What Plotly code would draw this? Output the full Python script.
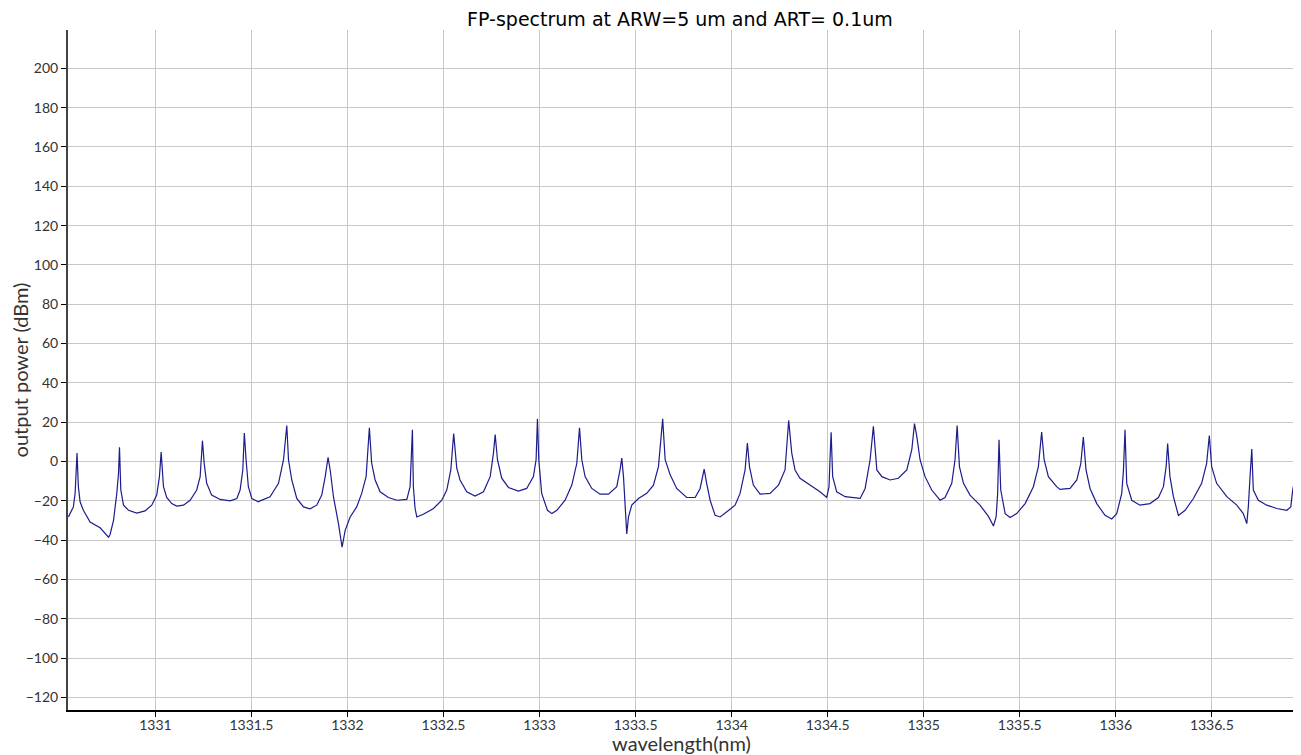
import plotly.graph_objects as go

# Wavelength (nm) and output power (dBm)
wavelength = [
    1330.547, 1330.573, 1330.582, 1330.587, 1330.592, 1330.599, 1330.608, 1330.625, 1330.660, 1330.712,
    1330.756, 1330.764, 1330.782, 1330.799, 1330.808, 1330.813, 1330.820, 1330.834, 1330.860, 1330.903,
    1330.946, 1330.981, 1331.007, 1331.021, 1331.030, 1331.042, 1331.059, 1331.085, 1331.111, 1331.146,
    1331.181, 1331.215, 1331.233, 1331.245, 1331.254, 1331.267, 1331.293, 1331.337, 1331.389, 1331.424,
    1331.441, 1331.455, 1331.463, 1331.472, 1331.484, 1331.502, 1331.536,
    1331.545, 1331.597, 1331.641, 1331.667, 1331.684, 1331.693, 1331.710, 1331.736, 1331.771, 1331.805,
    1331.840, 1331.866, 1331.884, 1331.899, 1331.910, 1331.927, 1331.953, 1331.972, 1331.988, 1332.014,
    1332.048, 1332.074, 1332.097, 1332.114, 1332.126, 1332.144, 1332.170, 1332.213, 1332.257, 1332.309,
    1332.326, 1332.331, 1332.338, 1332.343, 1332.352, 1332.361, 1332.395, 1332.448, 1332.491, 1332.517,
    1332.538, 1332.553, 1332.569,
    1332.586, 1332.621, 1332.664, 1332.708, 1332.743, 1332.760, 1332.769, 1332.781, 1332.803, 1332.838,
    1332.890, 1332.933, 1332.968, 1332.982, 1332.989, 1332.996, 1333.011, 1333.041, 1333.064, 1333.090,
    1333.133, 1333.168, 1333.194, 1333.208, 1333.220, 1333.237, 1333.272, 1333.315, 1333.359, 1333.402,
    1333.419, 1333.428, 1333.437, 1333.445, 1333.454, 1333.463, 1333.480, 1333.515, 1333.558, 1333.593,
    1333.619,
    1333.641, 1333.654, 1333.680, 1333.714, 1333.766, 1333.810, 1333.836, 1333.850, 1333.857, 1333.870,
    1333.888, 1333.914, 1333.940, 1333.975, 1334.018, 1334.044, 1334.070, 1334.082, 1334.093, 1334.113,
    1334.148, 1334.200, 1334.244, 1334.278, 1334.290, 1334.297, 1334.313, 1334.330, 1334.356, 1334.408,
    1334.460, 1334.495, 1334.507, 1334.512, 1334.518, 1334.526, 1334.547, 1334.591, 1334.651,
    1334.669, 1334.695, 1334.721, 1334.738, 1334.756, 1334.782, 1334.825, 1334.868, 1334.912, 1334.938,
    1334.952, 1334.964, 1334.981, 1335.007, 1335.042, 1335.085, 1335.111, 1335.146, 1335.163, 1335.174,
    1335.186, 1335.207, 1335.241, 1335.293, 1335.337, 1335.363, 1335.377, 1335.385, 1335.392, 1335.401,
    1335.424, 1335.450, 1335.484, 1335.528, 1335.571, 1335.597, 1335.614, 1335.627, 1335.649, 1335.692,
    1335.710, 1335.762, 1335.797, 1335.818, 1335.831, 1335.845, 1335.866, 1335.901, 1335.944, 1335.979,
    1336.005, 1336.031, 1336.040, 1336.048, 1336.057, 1336.083, 1336.126, 1336.178, 1336.222, 1336.248,
    1336.262, 1336.270, 1336.282, 1336.300, 1336.326, 1336.361, 1336.404, 1336.447, 1336.473, 1336.487,
    1336.499, 1336.525, 1336.578, 1336.630, 1336.664, 1336.682, 1336.690, 1336.699, 1336.708, 1336.716,
    1336.742, 1336.786, 1336.838, 1336.890, 1336.911, 1336.921, 1336.928, 1336.933,
]

power_dbm = [
    -28.2, -23.1, -16.2, -4.3, 4.3, -12.8, -20.5, -24.8, -30.8, -33.7,
    -38.5, -37.1, -29.9, -16.2, -6.0, 7.2, -14.5, -22.2, -24.8, -26.2,
    -25.1, -22.2, -17.1, -7.7, 4.8, -12.8, -18.3, -21.4, -22.7, -22.2,
    -19.7, -14.5, -7.7, 10.6, -0.9, -11.1, -17.1, -19.3, -20.0, -18.8,
    -14.5, -4.3, 14.5, 0.9, -12.8, -18.8, -20.5,
    -20.0, -17.9, -11.1, 0.9, 18.3, 0.9, -9.4, -18.8, -23.1, -24.1,
    -22.2, -17.1, -7.7, 2.1, -4.3, -17.9, -31.6, -43.6, -35.0, -28.2,
    -23.1, -16.2, -7.7, 17.1, -0.9, -9.4, -15.4, -18.3, -19.7, -19.3,
    -12.8, 0.9, 16.2, -12.8, -23.9, -28.2, -26.8, -23.9, -19.7, -14.5,
    -4.3, 14.2, -3.4,
    -9.4, -15.4, -17.6, -15.4, -7.7, 4.3, 13.7, 0.9, -8.5, -13.2,
    -15.0, -13.7, -7.7, 0.9, 21.7, 0.9, -16.2, -24.8, -26.5, -24.8,
    -19.7, -12.0, -0.9, 17.1, 0.9, -7.7, -13.7, -16.6, -16.6, -12.8,
    -4.3, 1.7, -7.7, -24.8, -36.8, -28.2, -22.2, -18.8, -16.2, -12.0,
    -2.6,
    21.7, 0.9, -6.8, -13.7, -18.3, -18.3, -13.7, -6.0, -3.9, -11.1,
    -19.7, -27.4, -28.2, -25.6, -22.2, -16.2, -4.3, 9.4, -2.6, -12.0,
    -16.6, -16.2, -12.0, -4.3, 11.1, 20.9, 4.3, -4.3, -8.5, -12.0,
    -15.4, -18.3, -12.8, 0.9, 14.9, -7.7, -15.4, -17.9, -18.8,
    -18.8, -13.7, 0.9, 17.9, -4.3, -7.7, -9.4, -8.5, -4.3, 6.0,
    19.3, 12.8, 0.9, -7.7, -14.5, -19.7, -18.3, -11.1, 0.9, 18.3,
    -2.6, -11.1, -17.1, -22.2, -27.9, -32.8, -28.2, -16.2, 11.1, -14.5,
    -26.5, -28.5, -26.5, -21.4, -12.8, -2.6, 15.0, 0.9, -7.7, -12.8,
    -14.2, -13.7, -9.4, -0.9, 12.5, -4.3, -13.7, -21.4, -27.4, -29.2,
    -26.5, -16.2, -4.3, 16.2, -11.1, -19.7, -22.2, -21.4, -18.3, -12.8,
    -2.6, 9.1, -7.7, -17.9, -27.4, -24.8, -18.8, -11.1, -0.9, 13.2,
    -2.6, -11.1, -17.9, -22.2, -26.5, -31.6, -23.1, -7.7, 6.3, -14.5,
    -19.7, -22.2, -23.9, -24.8, -23.1, -14.5, -11.1, -13.7,
]

x_range = [1330.545, 1336.933]
y_range = [-126.4, 219.5]

fig = go.Figure()
fig.add_trace(go.Scatter(
    x=wavelength, y=power_dbm, mode="lines",
    line=dict(color="#1c1c8c", width=1.2),
    showlegend=False,
))

tick_font = dict(family="Lato, 'Open Sans', sans-serif", size=14, color="#333333")
label_font = dict(family="Lato, 'Open Sans', sans-serif", size=20, color="#333333")

fig.update_layout(
    width=1293, height=747,
    margin=dict(l=60, r=6, t=22, b=45),
    paper_bgcolor="white", plot_bgcolor="white",
    title=dict(
        text="FP-spectrum at ARW=5 um and ART= 0.1um",
        x=0.5197, xanchor="center", y=0.9846, yanchor="middle",
        font=dict(family="DejaVu Sans", size=19, color="#000000"),
    ),
    xaxis=dict(
        range=x_range, dtick=0.5, tick0=1331, tickformat=".1~f",
        showgrid=True, gridcolor="#c8c8c8", gridwidth=1,
        zeroline=False,
        showline=True, linecolor="#000000", linewidth=1.5,
        ticks="outside", ticklen=5, tickcolor="#000000",
        ticklabelstandoff=-4,
        tickfont=tick_font,
        title=dict(text="wavelength(nm)", standoff=6, font=label_font),
        automargin=False,
    ),
    yaxis=dict(
        range=y_range, dtick=20, tick0=0,
        showgrid=True, gridcolor="#c8c8c8", gridwidth=1,
        zeroline=False,
        showline=True, linecolor="#444444", linewidth=2,
        ticks="outside", ticklen=5, tickcolor="#000000",
        tickfont=tick_font,
        title=dict(text="output power (dBm)", standoff=4, font=label_font),
        automargin=False,
    ),
)

fig.write_html("out.html")
